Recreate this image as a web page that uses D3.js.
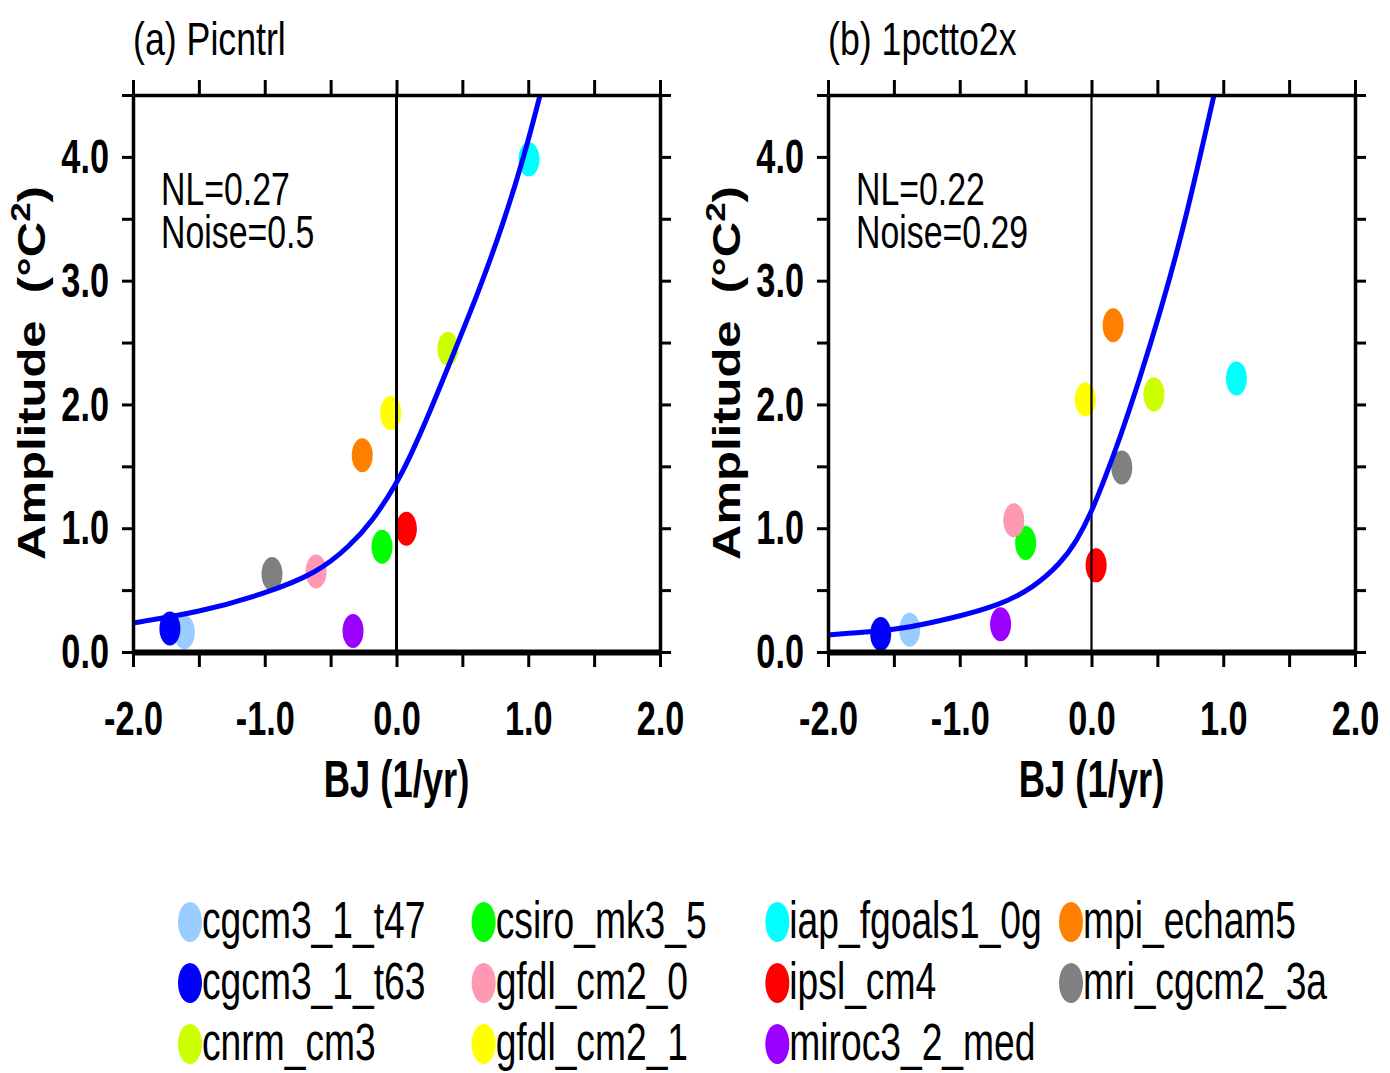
<!DOCTYPE html>
<html>
<head>
<meta charset="utf-8">
<script src="https://cdn.jsdelivr.net/npm/d3@7"></script>
<style>
  body { margin: 0; background: #fff; }
  text { font-family: "Liberation Sans", Arial, sans-serif; fill: #000; }
</style>
</head>
<body>
<div id="chart"></div>
<script>
// models and their marker colours
const models = ["cgcm3_1_t47", "cgcm3_1_t63", "cnrm_cm3", "csiro_mk3_5", "gfdl_cm2_0", "gfdl_cm2_1",
                "iap_fgoals1_0g", "ipsl_cm4", "miroc3_2_med", "mpi_echam5", "mri_cgcm2_3a"];
const colors = ["#99ccff", "#0000ff", "#ccff00", "#00ff00", "#ff99b3", "#ffff00",
                "#00ffff", "#ff0000", "#9900ff", "#ff8000", "#808080"];

// (a) Picntrl : BJ index vs amplitude
const bjA  = [-1.61, -1.72, 0.39, -0.11, -0.61, -0.044, 1.005, 0.075, -0.33, -0.26, -0.945];
const ampA = [0.16, 0.19, 2.45, 0.85, 0.65, 1.93, 3.98, 0.995, 0.17, 1.59, 0.63];
// (b) 1pctto2x
const bjB  = [-1.38, -1.60, 0.474, -0.50, -0.59, -0.047, 1.10, 0.035, -0.69, 0.164, 0.23];
const ampB = [0.18, 0.145, 2.08, 0.88, 1.065, 2.04, 2.21, 0.70, 0.225, 2.64, 1.49];

// fitted curves
const curveAx = [-2.0, -1.5, -1.0, -0.6, -0.36, -0.18, 0, 0.1, 0.25, 0.44, 0.63, 0.80, 0.96, 1.09];
const curveAy = [0.235, 0.32, 0.47, 0.64, 0.85, 1.06, 1.36, 1.57, 1.93, 2.43, 2.93, 3.43, 3.97, 4.5];
const curveBx = [-2.0, -1.6, -1.38, -1.07, -0.69, -0.44, -0.23, -0.11, 0, 0.1, 0.21, 0.37, 0.52, 0.70, 0.93];
const curveBy = [0.137, 0.17, 0.20, 0.27, 0.38, 0.52, 0.72, 0.90, 1.13, 1.40, 1.71, 2.22, 2.74, 3.42, 4.5];

const titles = ["(a) Picntrl", "(b) 1pctto2x"];
const notesA = ["NL=0.27", "Noise=0.5"];
const notesB = ["NL=0.22", "Noise=0.29"];

// tick values
const xTicks = [-2, -1.5, -1, -0.5, 0, 0.5, 1, 1.5, 2];
const xLabels = [-2, -1, 0, 1, 2];
const yTicks = [0, 0.5, 1, 1.5, 2, 2.5, 3, 3.5, 4, 4.5];
const yLabels = [0, 1, 2, 3, 4];

const width = 1390, height = 1073;
const svg = d3.select("#chart").append("svg")
    .attr("width", width)
    .attr("height", height);
svg.append("rect").attr("width", width).attr("height", height).attr("fill", "#fff");

const color = d3.scaleOrdinal(models, colors);
const fmt = d => d3.format(".1f")(d).replace("\u2212", "-");

const panels = [
  {left: 133, title: titles[0], notes: notesA, bj: bjA, amp: ampA, cx: curveAx, cy: curveAy, zw: 3, id: "a"},
  {left: 828, title: titles[1], notes: notesB, bj: bjB, amp: ampB, cx: curveBx, cy: curveBy, zw: 2.2, id: "b"}
];

panels.forEach(drawPanel);

function drawPanel(p) {
  const x = d3.scaleLinear().domain([-2, 2]).range([p.left, p.left + 527]);
  const y = d3.scaleLinear().domain([0, 4.5]).range([652, 95]);
  const g = svg.append("g");

  g.append("clipPath").attr("id", "clip" + p.id)
    .append("rect")
    .attr("x", x(-2)).attr("y", y(4.5))
    .attr("width", x(2) - x(-2)).attr("height", y(0) - y(4.5));

  // model markers
  const pts = models.map((m, i) => ({m: m, bj: p.bj[i], amp: p.amp[i]}));
  g.selectAll(".pt")
    .data(pts)
    .enter().append("ellipse")
    .attr("class", "pt")
    .attr("cx", d => x(d.bj))
    .attr("cy", d => y(d.amp))
    .attr("rx", 10.5)
    .attr("ry", 17)
    .attr("fill", d => color(d.m));

  // zero line
  g.append("line")
    .attr("x1", x(0)).attr("x2", x(0))
    .attr("y1", y(0)).attr("y2", y(4.5))
    .attr("stroke", "#000")
    .attr("stroke-width", p.zw);

  // fitted curve
  const line = d3.line()
    .x(d => x(d[0]))
    .y(d => y(d[1]))
    .curve(d3.curveBasis);
  g.append("path")
    .datum(d3.zip(p.cx, p.cy))
    .attr("clip-path", "url(#clip" + p.id + ")")
    .attr("d", line)
    .attr("fill", "none")
    .attr("stroke", "#0000ff")
    .attr("stroke-width", 5);

  // axes
  const top = g.append("g").attr("transform", `translate(0,${y(4.5)})`)
    .call(d3.axisTop(x).tickValues(xTicks).tickSize(15).tickSizeOuter(0).tickFormat(""));
  const bottom = g.append("g").attr("transform", `translate(0,${y(0)})`)
    .call(d3.axisBottom(x).tickValues(xTicks).tickSize(15).tickSizeOuter(0).tickPadding(33)
      .tickFormat(d => xLabels.includes(d) ? fmt(d) : ""));
  const left = g.append("g").attr("transform", `translate(${x(-2)},0)`)
    .call(d3.axisLeft(y).tickValues(yTicks).tickSize(11).tickSizeOuter(0).tickPadding(13)
      .tickFormat(d => yLabels.includes(d) ? fmt(d) : ""));
  const right = g.append("g").attr("transform", `translate(${x(2)},0)`)
    .call(d3.axisRight(y).tickValues(yTicks).tickSize(11).tickSizeOuter(0).tickFormat(""));

  [top, bottom, left, right].forEach(a => {
    a.select(".domain").attr("stroke", "#000").attr("stroke-width", 3.5);
    a.selectAll(".tick line").attr("stroke", "#000").attr("stroke-width", 3);
  });
  bottom.select(".domain").attr("stroke-width", 6);

  const sq = 0.7;
  bottom.selectAll("text")
    .attr("font-size", 49).attr("font-weight", "bold")
    .attr("font-family", "Liberation Sans, Arial, sans-serif")
    .attr("transform", `scale(${sq},1)`);
  left.selectAll("text")
    .attr("font-size", 49).attr("font-weight", "bold")
    .attr("font-family", "Liberation Sans, Arial, sans-serif")
    .attr("x", -24 / sq)
    .attr("transform", `scale(${sq},1)`);

  // titles and notes
  g.append("text")
    .attr("transform", `translate(${x(-2)},55) scale(0.76,1)`)
    .attr("font-size", 47)
    .text(p.title);

  const note = g.append("text")
    .attr("transform", `translate(${x(-2) + 28},205) scale(0.72,1)`)
    .attr("font-size", 47);
  note.selectAll("tspan")
    .data(p.notes)
    .enter().append("tspan")
    .attr("x", 0)
    .attr("dy", (d, i) => i === 0 ? 0 : 43)
    .text(d => d);

  // x axis title
  g.append("text")
    .attr("transform", `translate(${x(0)},797) scale(0.7,1)`)
    .attr("text-anchor", "middle")
    .attr("font-size", 52)
    .attr("font-weight", "bold")
    .text("BJ (1/yr)");

  // y axis title
  const yt = g.append("text")
    .attr("transform", `translate(${p.left - 88},373) rotate(-90) scale(1,0.78)`)
    .attr("text-anchor", "middle")
    .attr("font-size", 49)
    .attr("font-weight", "bold");
  yt.append("tspan").text("Amplitude\u00a0\u00a0(\u00b0C");
  yt.append("tspan").attr("font-size", 35).attr("dy", -19).text("2");
  yt.append("tspan").attr("dy", 19).text(")");
}

// legend, filled column by column, three rows
const colX = d3.scaleLinear().domain([0, 3]).range([190, 1071]);
const rowY = d3.scaleLinear().domain([0, 2]).range([922, 1044]);

const legend = svg.selectAll(".leg")
  .data(models)
  .enter().append("g")
  .attr("class", "leg")
  .attr("transform", (d, i) => `translate(${colX(Math.floor(i / 3))},${rowY(i % 3)})`);

legend.append("ellipse")
  .attr("rx", 12)
  .attr("ry", 20)
  .attr("fill", d => color(d));

legend.append("text")
  .attr("transform", "translate(12,16) scale(0.73,1)")
  .attr("font-size", 51)
  .text(d => d);
</script>
</body>
</html>
